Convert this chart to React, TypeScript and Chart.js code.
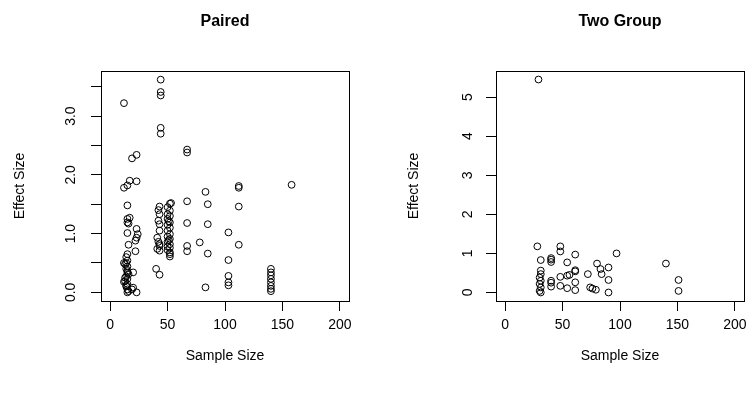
import React, { useEffect, useRef } from 'react';
import { Chart, registerables } from 'chart.js';

Chart.register(...registerables);

// ---------- data ----------
const pairedN = [
  12, 44, 44, 44, 44, 44, 19, 23, 67, 67,
  17, 23, 12, 15, 83, 85, 67, 53, 43, 43,
  15, 15, 15, 17, 16, 67, 85, 23, 24, 23, 22, 15,
  43, 43, 41, 43, 41, 43, 43, 42, 42, 42,
  52, 50, 52, 50, 52, 50, 52, 50, 52, 50, 52, 50, 52, 50, 52, 50, 52, 50, 52, 52, 52, 51, 51,
  78, 67, 67, 85, 16, 22,
  15, 14, 15, 13, 15, 14, 15, 16, 14, 15, 13, 15, 14, 15, 16, 15, 14, 13, 15, 14,
  12, 12, 20, 20, 23, 19, 40, 43, 83,
  103, 103, 103, 103, 103,
  112, 112, 112, 112,
  140, 140, 140, 140, 140, 140, 140, 140,
  158,
];
const pairedES = [
  3.22, 3.62, 3.41, 3.35, 2.8, 2.7, 2.28, 2.34, 2.43, 2.38,
  1.9, 1.89, 1.78, 1.82, 1.71, 1.5, 1.55, 1.52, 1.46, 1.33,
  1.48, 1.25, 1.19, 1.27, 1.17, 1.18, 1.16, 1.08, 0.99, 0.93, 0.88, 1.01,
  1.16, 1.05, 0.93, 0.82, 0.74, 0.71, 0.79, 1.4, 1.22, 0.86,
  1.51, 1.45, 1.39, 1.33, 1.3, 1.25, 1.19, 1.15, 1.1, 1.05, 0.99, 0.95, 0.91, 0.86, 0.82, 0.78, 0.76, 0.72, 0.68, 0.65, 0.61, 1.21, 0.89,
  0.85, 0.79, 0.7, 0.66, 0.81, 0.7,
  0.65, 0.6, 0.54, 0.48, 0.44, 0.4, 0.36, 0.31, 0.27, 0.23, 0.19, 0.14, 0.1, 0.05, 0.02, 0.0, 0.12, 0.25, 0.33, 0.5,
  0.5, 0.18, 0.34, 0.08, 0.0, 0.05, 0.4, 0.3, 0.085,
  1.02, 0.55, 0.28, 0.17, 0.12,
  1.81, 1.78, 1.46, 0.81,
  0.4, 0.34, 0.29, 0.23, 0.17, 0.11, 0.06, 0.02,
  1.83,
];

const twoGroupN = [
  29, 28, 31, 31, 31, 30, 31, 30, 31, 30, 31,
  40, 40, 40, 40, 40, 40,
  48, 48, 48, 48,
  54, 54, 56, 54,
  61, 61, 61, 61, 61,
  72, 74, 76, 79,
  80, 83, 84,
  90, 90, 90,
  97, 140, 151, 151,
];
const twoGroupES = [
  5.45, 1.18, 0.83, 0.56, 0.47, 0.38, 0.3, 0.22, 0.13, 0.04, 0.0,
  0.88, 0.84, 0.78, 0.3, 0.25, 0.15,
  1.18, 1.05, 0.4, 0.17,
  0.77, 0.43, 0.45, 0.11,
  0.97, 0.57, 0.54, 0.26, 0.06,
  0.47, 0.13, 0.1, 0.07,
  0.74, 0.6, 0.47,
  0.64, 0.32, 0.0,
  1.0, 0.74, 0.32, 0.04,
];

const xTicks = [0, 50, 100, 150, 200];
const xTickLabels = ['0', '50', '100', '150', '200'];
const pairedYTicks = [0, 0.5, 1, 1.5, 2, 2.5, 3, 3.5];
const pairedYTickLabels = ['0.0', '', '1.0', '', '2.0', '', '3.0', ''];
const twoGroupYTicks = [0, 1, 2, 3, 4, 5];
const twoGroupYTickLabels = ['0', '1', '2', '3', '4', '5'];

const FONT = 'Liberation Sans, Arial, Helvetica, sans-serif';

const boxPlugin = {
  id: 'rbox',
  afterDraw(chart: any) {
    const { ctx, chartArea: a } = chart;
    ctx.save();
    ctx.strokeStyle = '#000';
    ctx.lineWidth = 1;
    const l = Math.round(a.left) + 0.5;
    const t = Math.round(a.top) + 0.5;
    const r = Math.round(a.right) + 0.5;
    const b = Math.round(a.bottom) + 0.5;
    ctx.strokeRect(l, t, r - l, b - t);
    ctx.restore();
  },
};

type PanelProps = {
  title: string;
  xs: number[];
  ys: number[];
  yMin: number;
  yMax: number;
  yTicks: number[];
  yTickLabels: string[];
  width: number;
  axisWidth: number;
  padRight: number;
  yTitlePad: number;
  yTickPad: number;
};

function Panel(p: PanelProps) {
  const ref = useRef<HTMLCanvasElement | null>(null);
  useEffect(() => {
    if (!ref.current) return;
    const chart = new Chart(ref.current, {
      type: 'scatter',
      data: {
        datasets: [
          {
            data: p.xs.map((x, i) => ({ x, y: p.ys[i] })),
            pointStyle: 'circle',
            pointRadius: 3.4,
            pointBorderWidth: 1,
            borderColor: '#000',
            backgroundColor: 'rgba(0,0,0,0)',
            pointBackgroundColor: 'rgba(0,0,0,0)',
            pointBorderColor: '#000',
          },
        ],
      },
      options: {
        responsive: false,
        animation: false,
        events: [],
        layout: { padding: { left: 0, right: p.padRight, top: 0, bottom: 0 } },
        plugins: {
          legend: { display: false },
          tooltip: { enabled: false },
          title: {
            display: true,
            text: p.title,
            fullSize: false,
            color: '#000',
            font: { family: FONT, size: 16, weight: 'bold' },
            padding: { top: 12.4, bottom: 39.4 },
          },
        },
        scales: {
          x: {
            type: 'linear',
            min: -8,
            max: 208,
            afterFit: (s: any) => {
              s.height = 98;
            },
            afterBuildTicks: (s: any) => {
              s.ticks = xTicks.map((v) => ({ value: v }));
            },
            border: { display: false },
            grid: {
              display: true,
              drawOnChartArea: false,
              drawTicks: true,
              tickLength: 10,
              color: '#000',
              lineWidth: 1,
            },
            ticks: {
              autoSkip: false,
              maxRotation: 0,
              minRotation: 0,
              padding: 6,
              color: '#000',
              font: { family: FONT, size: 14 },
              callback: (_v: any, i: number) => xTickLabels[i],
            },
            title: {
              display: true,
              text: 'Sample Size',
              color: '#000',
              font: { family: FONT, size: 14 },
              padding: { top: 0, bottom: 34.6 },
            },
          },
          y: {
            type: 'linear',
            min: p.yMin,
            max: p.yMax,
            afterFit: (s: any) => {
              s.width = p.axisWidth;
            },
            afterBuildTicks: (s: any) => {
              s.ticks = p.yTicks.map((v) => ({ value: v }));
            },
            border: { display: false },
            grid: {
              display: true,
              drawOnChartArea: false,
              drawTicks: true,
              tickLength: 10,
              color: '#000',
              lineWidth: 1,
            },
            ticks: {
              autoSkip: false,
              minRotation: 90,
              maxRotation: 90,
              crossAlign: 'center',
              align: 'end',
              padding: p.yTickPad,
              color: '#000',
              font: { family: FONT, size: 14 },
              callback: (_v: any, i: number) => p.yTickLabels[i],
            },
            title: {
              display: true,
              text: 'Effect Size',
              color: '#000',
              font: { family: FONT, size: 14 },
              padding: { top: p.yTitlePad, bottom: 0 },
            },
          },
        },
      },
      plugins: [boxPlugin],
    } as any);
    return () => chart.destroy();
  }, []);
  return <canvas ref={ref} width={p.width} height={399} style={{ display: 'block', width: p.width, height: 399 }} />;
}

export default function App() {
  return (
    <div style={{ position: 'fixed', left: 0, top: 0, width: 753, height: 399, background: '#fff', display: 'flex' }}>
      <Panel
        title="Paired"
        xs={pairedN}
        ys={pairedES}
        yMin={-0.147}
        yMax={3.767}
        yTicks={pairedYTicks}
        yTickLabels={pairedYTickLabels}
        width={376}
        axisWidth={101}
        padRight={27}
        yTitlePad={12}
        yTickPad={3}
      />
      <Panel
        title="Two Group"
        xs={twoGroupN}
        ys={twoGroupES}
        yMin={-0.218}
        yMax={5.668}
        yTicks={twoGroupYTicks}
        yTickLabels={twoGroupYTickLabels}
        width={377}
        axisWidth={120}
        padRight={9}
        yTitlePad={30}
        yTickPad={7}
      />
    </div>
  );
}
